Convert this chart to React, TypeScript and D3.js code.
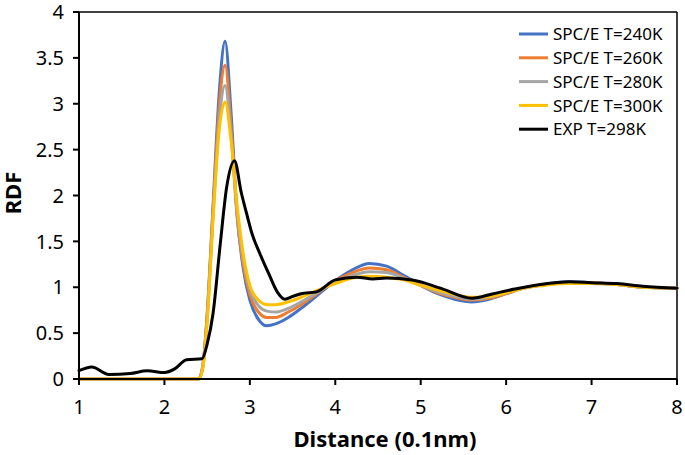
import React from 'react';
import * as d3 from 'd3';

// distances (0.1 nm) for the simulated curves
const spcDistance = [1.0, 2.4, 2.45, 2.5, 2.57, 2.64, 2.71, 2.78, 2.85, 2.92, 3.0, 3.1, 3.2, 3.3, 3.45, 3.6, 3.8, 4.0, 4.2, 4.4, 4.6, 4.8, 5.0, 5.2, 5.4, 5.6, 5.8, 6.0, 6.2, 6.45, 6.7, 7.0, 7.3, 7.6, 8.0];
const rdf240 = [0, 0, 0.15, 0.7, 1.9, 3.1, 3.68, 2.9, 1.8, 1.22, 0.86, 0.65, 0.58, 0.6, 0.67, 0.77, 0.92, 1.07, 1.19, 1.26, 1.23, 1.13, 1.02, 0.93, 0.87, 0.84, 0.87, 0.93, 0.99, 1.03, 1.06, 1.05, 1.03, 1.0, 0.99];
const rdf260 = [0, 0, 0.14, 0.68, 1.85, 2.95, 3.42, 2.75, 1.78, 1.26, 0.92, 0.73, 0.67, 0.67, 0.73, 0.81, 0.94, 1.07, 1.16, 1.21, 1.19, 1.11, 1.02, 0.94, 0.89, 0.86, 0.88, 0.93, 0.99, 1.03, 1.05, 1.05, 1.03, 1.0, 0.99];
const rdf280 = [0, 0, 0.13, 0.65, 1.8, 2.8, 3.2, 2.65, 1.82, 1.32, 0.98, 0.8, 0.74, 0.73, 0.77, 0.84, 0.95, 1.06, 1.13, 1.17, 1.16, 1.1, 1.02, 0.95, 0.9, 0.87, 0.89, 0.94, 0.99, 1.03, 1.05, 1.04, 1.03, 1.0, 0.99];
const rdf300 = [0, 0, 0.12, 0.62, 1.75, 2.7, 3.02, 2.6, 1.9, 1.38, 1.02, 0.86, 0.81, 0.81, 0.84, 0.89, 0.97, 1.04, 1.1, 1.12, 1.11, 1.08, 1.02, 0.97, 0.92, 0.89, 0.9, 0.94, 0.99, 1.02, 1.04, 1.04, 1.03, 1.0, 0.99];

// experimental curve
const expDistance = [1.0, 1.15, 1.35, 1.6, 1.8, 2.0, 2.12, 2.26, 2.44, 2.5, 2.57, 2.65, 2.73, 2.82, 2.9, 2.96, 3.02, 3.12, 3.22, 3.32, 3.41, 3.5, 3.6, 3.78, 4.0, 4.25, 4.44, 4.6, 4.9, 5.23, 5.6, 5.85, 6.1, 6.4, 6.75, 7.0, 7.3, 7.6, 8.0];
const rdfExp = [0.09, 0.13, 0.05, 0.06, 0.09, 0.07, 0.11, 0.21, 0.22, 0.38, 0.72, 1.44, 2.1, 2.38, 2.03, 1.81, 1.6, 1.36, 1.15, 0.95, 0.87, 0.9, 0.93, 0.95, 1.08, 1.11, 1.09, 1.1, 1.08, 0.99, 0.88, 0.93, 0.98, 1.03, 1.06, 1.05, 1.04, 1.01, 0.99];

const seriesNames = ['SPC/E T=240K', 'SPC/E T=260K', 'SPC/E T=280K', 'SPC/E T=300K', 'EXP T=298K'];
const seriesColors = ['#4472C4', '#ED7D31', '#A5A5A5', '#FFC000', '#000000'];

const xTicks = [1, 2, 3, 4, 5, 6, 7, 8];
const yTicks = [0, 0.5, 1, 1.5, 2, 2.5, 3, 3.5, 4];

const W = 685;
const H = 455;
const FONT = '"Noto Sans", "Open Sans", sans-serif';

export default function App() {
  const x = d3.scaleLinear().domain([1, 8]).range([79, 677]);
  const y = d3.scaleLinear().domain([0, 4]).range([379, 12]);

  const series = [
    { xs: spcDistance, ys: rdf240 },
    { xs: spcDistance, ys: rdf260 },
    { xs: spcDistance, ys: rdf280 },
    { xs: spcDistance, ys: rdf300 },
    { xs: expDistance, ys: rdfExp },
  ].map((s, i) => ({
    name: seriesNames[i],
    color: seriesColors[i],
    points: s.xs.map((d, j) => [d, s.ys[j]] as [number, number]),
  }));

  const line = d3.line<[number, number]>()
    .x(d => x(d[0]))
    .y(d => y(d[1]))
    .curve(d3.curveMonotoneX);

  const [x0, x1] = x.range();
  const [y0, y1] = y.range();

  return (
    <svg width={W} height={H} style={{ position: 'absolute', left: 0, top: 0, background: '#fff' }} fontFamily={FONT}>
      {/* frame: top and right */}
      <line x1={x0} x2={x1} y1={y1} y2={y1} stroke="#000" strokeWidth={1.5} />
      <line x1={x1} x2={x1} y1={y1} y2={y0} stroke="#000" strokeWidth={1.5} />

      {/* data */}
      <g fill="none" strokeWidth={3} strokeLinejoin="round" strokeLinecap="round">
        {series.map(s => (
          <path key={s.name} d={line(s.points) || ''} stroke={s.color} />
        ))}
      </g>

      {/* axes */}
      <line x1={x0} x2={x1} y1={y0} y2={y0} stroke="#000" strokeWidth={2} />
      <line x1={x0} x2={x0} y1={y0} y2={y1} stroke="#000" strokeWidth={2} />
      {xTicks.map(t => (
        <g key={'x' + t}>
          <line x1={x(t)} x2={x(t)} y1={y0} y2={y0 + 6} stroke="#000" strokeWidth={2} />
          <text x={x(t)} y={414} textAnchor="middle" fontSize={20} fill="#000">{t}</text>
        </g>
      ))}
      {yTicks.map(t => (
        <g key={'y' + t}>
          <line x1={x0 - 6} x2={x0} y1={y(t)} y2={y(t)} stroke="#000" strokeWidth={2} />
          <text x={64} y={y(t)} dy="0.36em" textAnchor="end" fontSize={20} fill="#000">{t}</text>
        </g>
      ))}

      <text x={385} y={447} textAnchor="middle" fontSize={22} fontWeight="bold">Distance (0.1nm)</text>
      <text transform={`translate(21,193) rotate(-90)`} textAnchor="middle" fontSize={22} fontWeight="bold">RDF</text>

      {/* legend */}
      {series.map((s, i) => (
        <g key={'l' + s.name} transform={`translate(519,${34 + i * 23.8})`}>
          <line x1={0} x2={29} y1={0} y2={0} stroke={s.color} strokeWidth={3} />
          <text x={34} y={0} dy="0.36em" fontSize={17} fill="#000">{s.name}</text>
        </g>
      ))}
    </svg>
  );
}
